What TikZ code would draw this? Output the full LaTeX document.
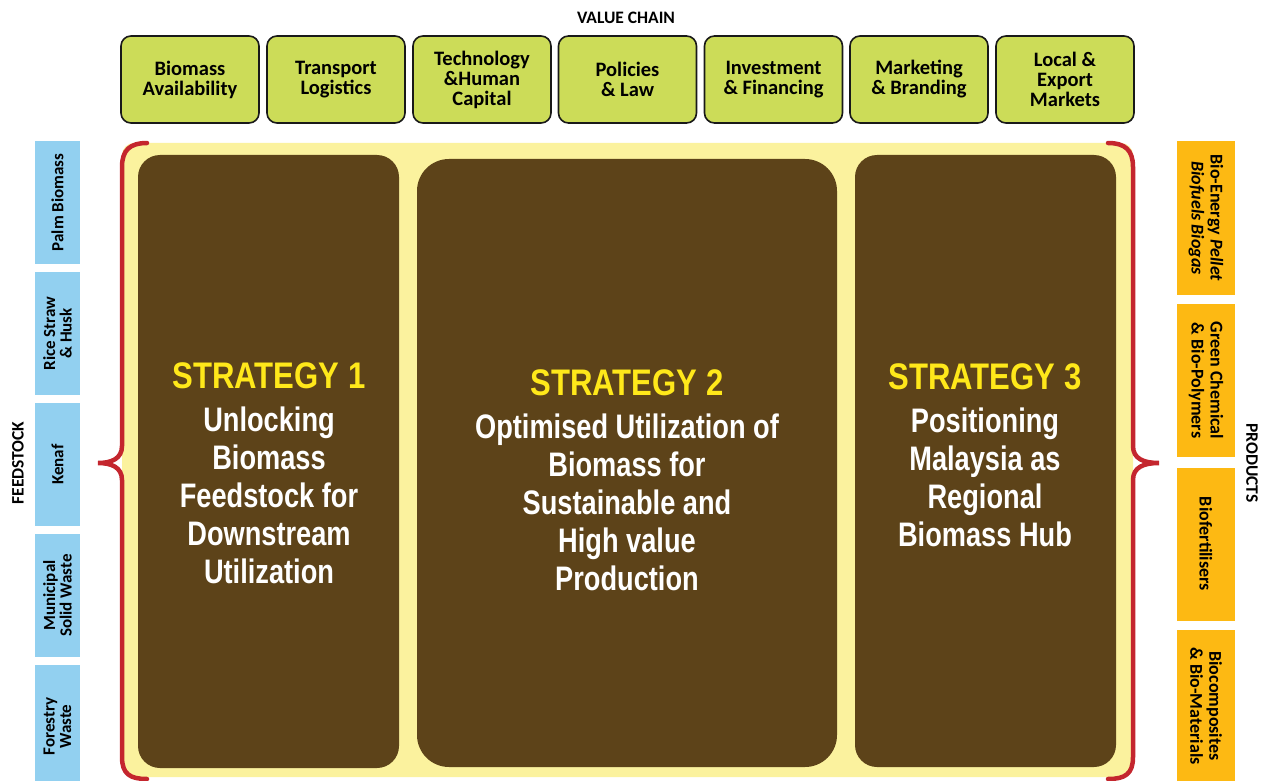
\documentclass[tikz,border=0pt]{standalone}
\usepackage{fontspec}
\setmainfont{Carlito}
\newfontfamily\stratfont{Liberation Sans}[FakeStretch=0.80]
\newfontfamily\headfont{Liberation Sans}[FakeStretch=0.84]
\definecolor{vgreen}{HTML}{CCDC58}
\definecolor{fblue}{HTML}{92D0F0}
\definecolor{porange}{HTML}{FDB913}
\definecolor{bgyellow}{HTML}{FBF29E}
\definecolor{sbrown}{HTML}{5D4319}
\definecolor{bred}{HTML}{C4262E}
\definecolor{syellow}{HTML}{FFE81A}
\begin{document}
\begin{tikzpicture}[x=1pt,y=-1pt,
  gbox/.style={draw=black!90, line width=1.6pt, fill=vgreen, rounded corners=10pt,
    minimum width=138pt, minimum height=87pt, align=center, inner sep=0pt,
    font=\bfseries\fontsize{20.5}{20}\selectfont},
  fbox/.style={fill=fblue, rotate=90, minimum width=123pt, minimum height=45pt,
    align=center, inner sep=0pt, font=\bfseries\fontsize{17}{16.5}\selectfont},
  pbox/.style={fill=porange, rotate=-90, minimum width=153pt, minimum height=58pt,
    align=center, inner sep=0pt, font=\bfseries\fontsize{18}{19}\selectfont},
  sbox/.style={fill=sbrown},
  stext/.style={align=center, text=white, inner sep=0pt,
    font=\stratfont\bfseries\fontsize{34}{38}\selectfont},
  shead/.style={font=\headfont\bfseries\fontsize{37}{38}\selectfont},
  label/.style={font=\bfseries\fontsize{17.5}{17.5}\selectfont, inner sep=0pt},
  brace/.style={draw=bred, line width=4.5pt, line cap=round}
]
\useasboundingbox (0,0) rectangle (1270,781);

% value chain
\node[label] (vc) at (626,18) {VALUE CHAIN};
\node[gbox] (g1) at (190,79.5) {Biomass\\Availability};
\node[gbox] (g2) at (336,79.5) {Transport\\Logistics};
\node[gbox] (g3) at (482,79.5) {Technology\\\&Human\\Capital};
\node[gbox] (g4) at (627.5,79.5) {Policies\\\& Law};
\node[gbox] (g5) at (773.5,79.5) {Investment\\\& Financing};
\node[gbox] (g6) at (919,79.5) {Marketing\\\& Branding};
\node[gbox] (g7) at (1065,79.5) {Local \&\\Export\\Markets};

% background
\fill[bgyellow, rounded corners=12pt] (122,143) rectangle (1133,777);

% brown strategy boxes
\fill[sbox, rounded corners=22pt] (138,155) rectangle (399,768);
\fill[sbox, rounded corners=32pt] (417,159) rectangle (837,767);
\fill[sbox, rounded corners=22pt] (855,155) rectangle (1116,767);

% braces
\draw[brace] (147,143) .. controls (130,143) and (122,150) .. (122,167)
  -- (122,446) .. controls (122,459) and (111,463) .. (98,463)
  .. controls (111,463) and (122,467) .. (122,480)
  -- (122,757) .. controls (122,774) and (130,779) .. (147,779);
\draw[brace] (1108,143) .. controls (1125,143) and (1133,150) .. (1133,167)
  -- (1133,446) .. controls (1133,459) and (1144,463) .. (1159,463)
  .. controls (1144,463) and (1133,467) .. (1133,480)
  -- (1133,757) .. controls (1133,774) and (1125,779) .. (1108,779);

% strategy texts
\node[stext] (s1) at (269,473) {{\headfont\fontsize{37}{38}\selectfont\textcolor{syellow}{STRATEGY 1}}\\[5pt]Unlocking\\Biomass\\Feedstock for\\Downstream\\Utilization};
\node[stext] (s2) at (627,480) {{\headfont\fontsize{37}{38}\selectfont\textcolor{syellow}{STRATEGY 2}}\\[5pt]Optimised Utilization of\\Biomass for\\Sustainable and\\High value\\Production};
\node[stext] (s3) at (985,455) {{\headfont\fontsize{37}{38}\selectfont\textcolor{syellow}{STRATEGY 3}}\\[5pt]Positioning\\Malaysia as\\Regional\\Biomass Hub};

% feedstock
\node[label, rotate=90] (fs) at (18,463) {FEEDSTOCK};
\node[fbox] (f1) at (57.5,202.5) {Palm Biomass};
\node[fbox] (f2) at (57.5,333.5) {Rice Straw\\\& Husk};
\node[fbox] (f3) at (57.5,464.5) {Kenaf};
\node[fbox] (f4) at (57.5,595.5) {Municipal\\Solid Waste};
\node[fbox] (f5) at (57.5,726.5) {Forestry\\Waste};

% products
\node[label, rotate=-90] (pr) at (1252,463) {PRODUCTS};
\node[pbox] (p1) at (1206,218) {Bio-Energy \textit{Pellet}\\\textit{Biofuels Biogas}};
\node[pbox] (p2) at (1206,380.5) {Green Chemical\\\& Bio-Polymers};
\node[pbox] (p3) at (1206,544) {Biofertilisers};
\node[pbox] (p4) at (1206,706) {Biocomposites\\\& Bio-Materials};
\end{tikzpicture}
\end{document}
